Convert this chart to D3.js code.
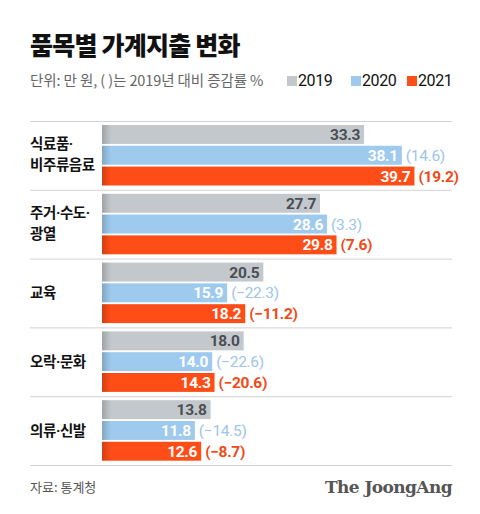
<!DOCTYPE html>
<html><head><meta charset="utf-8">
<script src="https://cdn.jsdelivr.net/npm/d3@7"></script>
<style>
body{margin:0;background:#fff;}
svg{display:block;font-family:"Noto Sans CJK KR","Noto Sans",sans-serif;}
</style></head>
<body>
<svg id="c" width="480" height="514"></svg>
<script>
const categories = [["식료품·","비주류음료"],["주거·수도·","광열"],["교육"],["오락·문화"],["의류·신발"]];
const years = ["2019","2020","2021"];
const v2019 = [33.3, 27.7, 20.5, 18.0, 13.8];
const v2020 = [38.1, 28.6, 15.9, 14.0, 11.8];
const v2021 = [39.7, 29.8, 18.2, 14.3, 12.6];
const chg2020 = ["(14.6)","(3.3)","(−22.3)","(−22.6)","(−14.5)"];
const chg2021 = ["(19.2)","(7.6)","(−11.2)","(−20.6)","(−8.7)"];
const colors = ["#c3c8cd","#9ecaee","#ff4d17"];
const labelColors = ["#4a4e54","#ffffff","#ffffff"];
const chgColors = [null,"#9cc6ea","#f04a18"];

const svg = d3.select("#c");
const defs = svg.append("defs");
const g = defs.append("linearGradient").attr("id","sh").attr("x1","0").attr("x2","1");
g.append("stop").attr("offset","0").attr("stop-color","#000").attr("stop-opacity",0.18);
g.append("stop").attr("offset","1").attr("stop-color","#000").attr("stop-opacity",0);

svg.append("text").attr("x",30).attr("y",55).text("품목별 가계지출 변화")
  .attr("font-size",25).attr("font-weight",900).attr("fill","#111").attr("letter-spacing",-0.8);
svg.append("text").attr("x",30).attr("y",86).text("단위: 만 원, ( )는 2019년 대비 증감률 %")
  .attr("font-size",14.5).attr("fill","#666").attr("letter-spacing",-0.1);

const legX = [287, 351, 407];
years.forEach((y,i)=>{
  svg.append("rect").attr("x",legX[i]).attr("y",76).attr("width",10).attr("height",10).attr("fill",colors[i]);
  svg.append("text").attr("x",legX[i]+11).attr("y",86).text(y).attr("font-size",16).attr("fill","#111")
    .attr("font-family","Roboto, 'Liberation Sans', sans-serif").attr("letter-spacing",-0.4);
});

const x = d3.scaleLinear().domain([0,40]).range([102, 102+40*7.87]);
const yBand = d3.scaleBand().domain(d3.range(categories.length)).range([121, 465]);
const yInner = d3.scaleBand().domain(d3.range(3)).range([4, 64.5]).paddingInner(0.09);

const series = [v2019, v2020, v2021];
const chgs = [null, chg2020, chg2021];

const lines = d3.range(categories.length+1).map(i=> i<categories.length ? yBand(i) : 465);
svg.selectAll("line.sep").data(lines).join("line").attr("class","sep")
  .attr("x1",30).attr("x2",452).attr("y1",d=>d+0.5).attr("y2",d=>d+0.5)
  .attr("stroke","#d2d2d2").attr("stroke-width",1);

function addLine(t, str, y){
  const parts = str.split("·");
  const first = t.append("tspan").attr("x",30).attr("y",y).text(parts[0]);
  for(let k=1;k<parts.length;k++){
    t.append("tspan").attr("font-family","Roboto, 'Liberation Sans', sans-serif").text("·");
    if(parts[k]) t.append("tspan").text(parts[k]);
  }
}

categories.forEach((cat,ci)=>{
  const gy = yBand(ci);
  const cy = gy + yBand.bandwidth()/2;
  const t = svg.append("text").attr("x",30).attr("font-size",14.5).attr("font-weight",700).attr("fill","#111").attr("letter-spacing",-0.4);
  if(cat.length===1){
    addLine(t, cat[0], cy+5);
  } else {
    addLine(t, cat[0], cy-6);
    addLine(t, cat[1], cy+15);
  }
  series.forEach((s,si)=>{
    const by = gy + yInner(si);
    const bh = yInner.bandwidth();
    const xe = x(s[ci]);
    svg.append("rect").attr("x",x(0)).attr("y",by).attr("width",xe-x(0)).attr("height",bh).attr("fill",colors[si]);
    svg.append("rect").attr("x",x(0)).attr("y",by).attr("width",9).attr("height",bh).attr("fill","url(#sh)");
    svg.append("text").attr("x",xe-4).attr("y",by+bh/2+5.5).attr("text-anchor","end")
      .text(s[ci].toFixed(1)).attr("font-size",15.5).attr("font-weight",700).attr("fill",labelColors[si])
      .attr("font-family","Roboto, 'Liberation Sans', sans-serif").attr("letter-spacing",-0.3);
    if(chgs[si]){
      svg.append("text").attr("x",xe+4).attr("y",by+bh/2+5.5)
        .text(chgs[si][ci]).attr("font-size",15.5).attr("font-weight",si===2?700:400).attr("fill",chgColors[si])
        .attr("font-family","Roboto, 'Liberation Sans', sans-serif").attr("letter-spacing",-0.3);
    }
  });
});

svg.append("text").attr("x",30).attr("y",492).text("자료: 통계청").attr("font-size",13).attr("fill","#555");
svg.append("text").attr("x",452).attr("y",493).attr("text-anchor","end").text("The JoongAng")
  .attr("font-family","'DejaVu Serif','Liberation Serif',serif").attr("font-weight",700)
  .attr("font-size",17).attr("fill","#555").attr("letter-spacing",-0.6);
</script>
</body></html>
